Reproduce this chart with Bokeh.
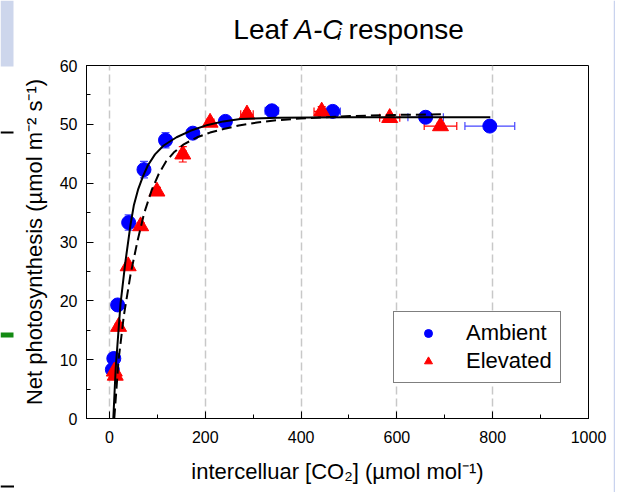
from bokeh.plotting import figure
from bokeh.layouts import row, column
from bokeh.models import (ColumnDataSource, Whisker, TeeHead, Legend, LegendItem,
                          SingleIntervalTicker, Range1d)
from bokeh.core.properties import value
from bokeh.embed import file_html
from bokeh.resources import INLINE

# ---------------- data ----------------
amb_ci = [6, 9, 17, 40, 72, 117, 174, 242, 339, 466, 660, 794]
amb_a = [8.3, 10.2, 19.3, 33.3, 42.3, 47.3, 48.5, 50.5, 52.3, 52.2, 51.2, 49.7]
amb_ci_err = [2, 2, 3, 3, 4, 5, 12, 8, 14, 16, 37, 52]
amb_a_err = [0.5, 0.6, 0.6, 1.3, 1.4, 1.3, 0.6, 0.5, 0.5, 0.5, 0.5, 0.5]

elv_ci = [10, 12, 19, 39, 65, 99, 153, 210, 287, 443, 585, 691]
elv_a = [8.0, 7.3, 15.6, 25.9, 32.7, 38.6, 44.9, 50.3, 51.7, 52.2, 51.1, 49.7]
elv_ci_err = [2, 2, 3, 3, 4, 5, 7, 8, 13, 16, 21, 34]
elv_a_err = [0.5, 0.5, 0.5, 0.5, 0.6, 0.7, 1.3, 0.5, 0.6, 0.8, 0.5, 0.5]

# fitted response curves
amb_fit_ci = [8, 13, 23, 33, 44, 51, 60, 70, 80, 95, 113, 140, 169, 205, 238, 273, 350, 500, 650, 795]
amb_fit_a = [0, 8.6, 19.5, 26.5, 33.0, 36.3, 39.0, 41.2, 43.0, 44.9, 46.4, 47.8, 48.9,
             49.9, 50.5, 50.9, 51.1, 51.2, 51.2, 51.2]
elv_fit_ci = [10, 19, 30, 44, 58, 72, 88, 103, 118, 134, 155, 183, 210, 238, 270, 308, 350, 398, 450,
              502, 600, 695]
elv_fit_a = [0, 10.0, 17.5, 24.5, 30.0, 34.8, 38.8, 41.6, 43.7, 45.2, 46.6, 47.8, 48.6, 49.2,
             49.8, 50.3, 50.7, 51.0, 51.2, 51.4, 51.6, 51.7]

series_names = ["Ambient", "Elevated"]
title_parts = ["Leaf", "A-C", "i", "response"]
x_label = "intercelluar [CO\u2082] (\u00b5mol mol\u207b\u00b9)"
y_label = "Net photosynthesis (\u00b5mol m\u207b\u00b2 s\u207b\u00b9)"

FONT = "Liberation Sans"
BLUE = "#0000ff"
RED = "#ff0000"

W, H = 619, 492
LS, RS = 14, 6            # side strips (screenshot edges)
TH = 45                   # title band height
CW = W - LS - RS          # centre width
L, R, T, B = 86 - LS, 613 - 588, 65 - TH, 74
X0, X1, Y0, Y1 = -48, 1000, 0, 60


def blank(width, height, x_rng, y_rng):
    f = figure(width=width, height=height, output_backend="svg", toolbar_location=None,
               x_range=Range1d(*x_rng), y_range=Range1d(*y_rng),
               x_axis_type=None, y_axis_type=None, min_border=0)
    f.outline_line_color = None
    f.grid.visible = False
    f.background_fill_color = "white"
    f.border_fill_color = "white"
    return f


# ---------------- main plot ----------------
p = figure(width=CW, height=H - TH, output_backend="svg", toolbar_location=None,
           x_range=Range1d(X0, X1), y_range=Range1d(Y0, Y1),
           min_border_left=L, min_border_right=R, min_border_top=T, min_border_bottom=B)
p.background_fill_color = "white"
p.border_fill_color = "white"
p.outline_line_color = "black"
p.outline_line_width = 1

p.xaxis.ticker = SingleIntervalTicker(interval=200, num_minor_ticks=2)
p.yaxis.ticker = SingleIntervalTicker(interval=10, num_minor_ticks=2)
for ax in (p.xaxis[0], p.yaxis[0]):
    ax.axis_line_color = "black"
    ax.major_tick_in = 7
    ax.major_tick_out = 0
    ax.minor_tick_in = 4
    ax.minor_tick_out = 0
    ax.major_tick_line_color = "black"
    ax.minor_tick_line_color = "black"
    ax.major_label_text_font = FONT
    ax.major_label_text_font_size = "16px"
    ax.major_label_text_color = "black"
    ax.axis_label_text_font = FONT
    ax.axis_label_text_font_size = "22px"
    ax.axis_label_text_font_style = "normal"
    ax.axis_label_text_color = "black"
p.xaxis.major_label_standoff = 12
p.yaxis.major_label_standoff = 9
p.xaxis.axis_label = x_label
p.yaxis.axis_label = y_label
p.xaxis.axis_label_standoff = 13
p.yaxis.axis_label_standoff = 10

p.xgrid.grid_line_color = "#c8c8c8"
p.xgrid.grid_line_width = 1.5
p.xgrid.grid_line_dash = "8 4"
p.ygrid.visible = False

amb_src = ColumnDataSource(dict(
    x=amb_ci, y=amb_a,
    xl=[a - e for a, e in zip(amb_ci, amb_ci_err)], xu=[a + e for a, e in zip(amb_ci, amb_ci_err)],
    yl=[a - e for a, e in zip(amb_a, amb_a_err)], yu=[a + e for a, e in zip(amb_a, amb_a_err)]))
elv_src = ColumnDataSource(dict(
    x=elv_ci, y=elv_a,
    xl=[a - e for a, e in zip(elv_ci, elv_ci_err)], xu=[a + e for a, e in zip(elv_ci, elv_ci_err)],
    yl=[a - e for a, e in zip(elv_a, elv_a_err)], yu=[a + e for a, e in zip(elv_a, elv_a_err)]))

for src, col in ((amb_src, "#4646ff"), (elv_src, RED)):
    for base, lo, hi, dim in (("y", "xl", "xu", "width"), ("x", "yl", "yu", "height")):
        p.add_layout(Whisker(source=src, base=base, lower=lo, upper=hi, dimension=dim,
                             line_color=col, line_width=1.2,
                             lower_head=TeeHead(size=8, line_color=col, line_width=1.2),
                             upper_head=TeeHead(size=8, line_color=col, line_width=1.2)))

r_amb = p.scatter("x", "y", source=amb_src, marker="circle", size=14,
                  fill_color=BLUE, line_color=BLUE)
r_elv = p.scatter("x", "y", source=elv_src, marker="triangle", size=16,
                  fill_color=RED, line_color=RED)

p.line(amb_fit_ci, amb_fit_a, line_color="black", line_width=2)
p.line(elv_fit_ci, elv_fit_a, line_color="black", line_width=2, line_dash="10 5")

legend = Legend(items=[LegendItem(label=series_names[0], renderers=[r_amb]),
                       LegendItem(label=series_names[1], renderers=[r_elv])],
                location=(307, 35), orientation="vertical",
                glyph_width=52, glyph_height=20, spacing=2, padding=8, margin=0,
                label_standoff=12, label_width=84,
                label_text_font=FONT, label_text_font_size="22px", label_text_color="black",
                label_text_baseline="middle",
                border_line_color="black", border_line_width=1,
                background_fill_color="white", background_fill_alpha=1)
p.add_layout(legend)

# ---------------- title band (pixel coordinates, y downwards) ----------------
tf = blank(CW, TH, (0, CW), (TH, 0))
TS, SS = 28, 17
BASE = 29
a_start = 262 - LS                      # where the italic "A" begins
w_ac = (0.667 + 0.333 + 0.722) * TS     # width of "A-C"
i_start = a_start + w_ac + 3
r_start = i_start + 0.222 * SS + 2 + 0.278 * TS
xs = [a_start - 0.278 * TS, a_start, i_start, r_start]
ys = [BASE, BASE, BASE + 5, BASE]
aligns = ["right", "left", "left", "left"]
sizes = [TS, TS, SS, TS]
styles = ["normal", "italic", "italic", "normal"]
for t, x_, y_, al, s, st in zip(title_parts, xs, ys, aligns, sizes, styles):
    tf.text(x=[x_], y=[y_], text=[t], text_align=al, text_baseline="alphabetic",
            text_font=value(FONT), text_font_size=value(f"{s}px"), text_font_style=st,
            text_color="black")

# ---------------- screenshot edge strips ----------------
lf = blank(LS, H, (0, LS), (H, 0))
lf.quad(left=[0, 0, 0, 0], right=[13, 13, 13, 14], top=[0, 131, 332, 485],
        bottom=[66, 133, 337, 487],
        fill_color=["#cdd6ec", "#000000", "#138a13", "#000000"], line_color=None)
rf = blank(RS, H, (0, RS), (H, 0))
rf.quad(left=[0], right=[1.5], top=[0], bottom=[H], fill_color="#c9d3ee", line_color=None)

layout = row(lf, column(tf, p, spacing=0), rf, spacing=0)
open("out.html", "w").write(file_html(layout, INLINE))
